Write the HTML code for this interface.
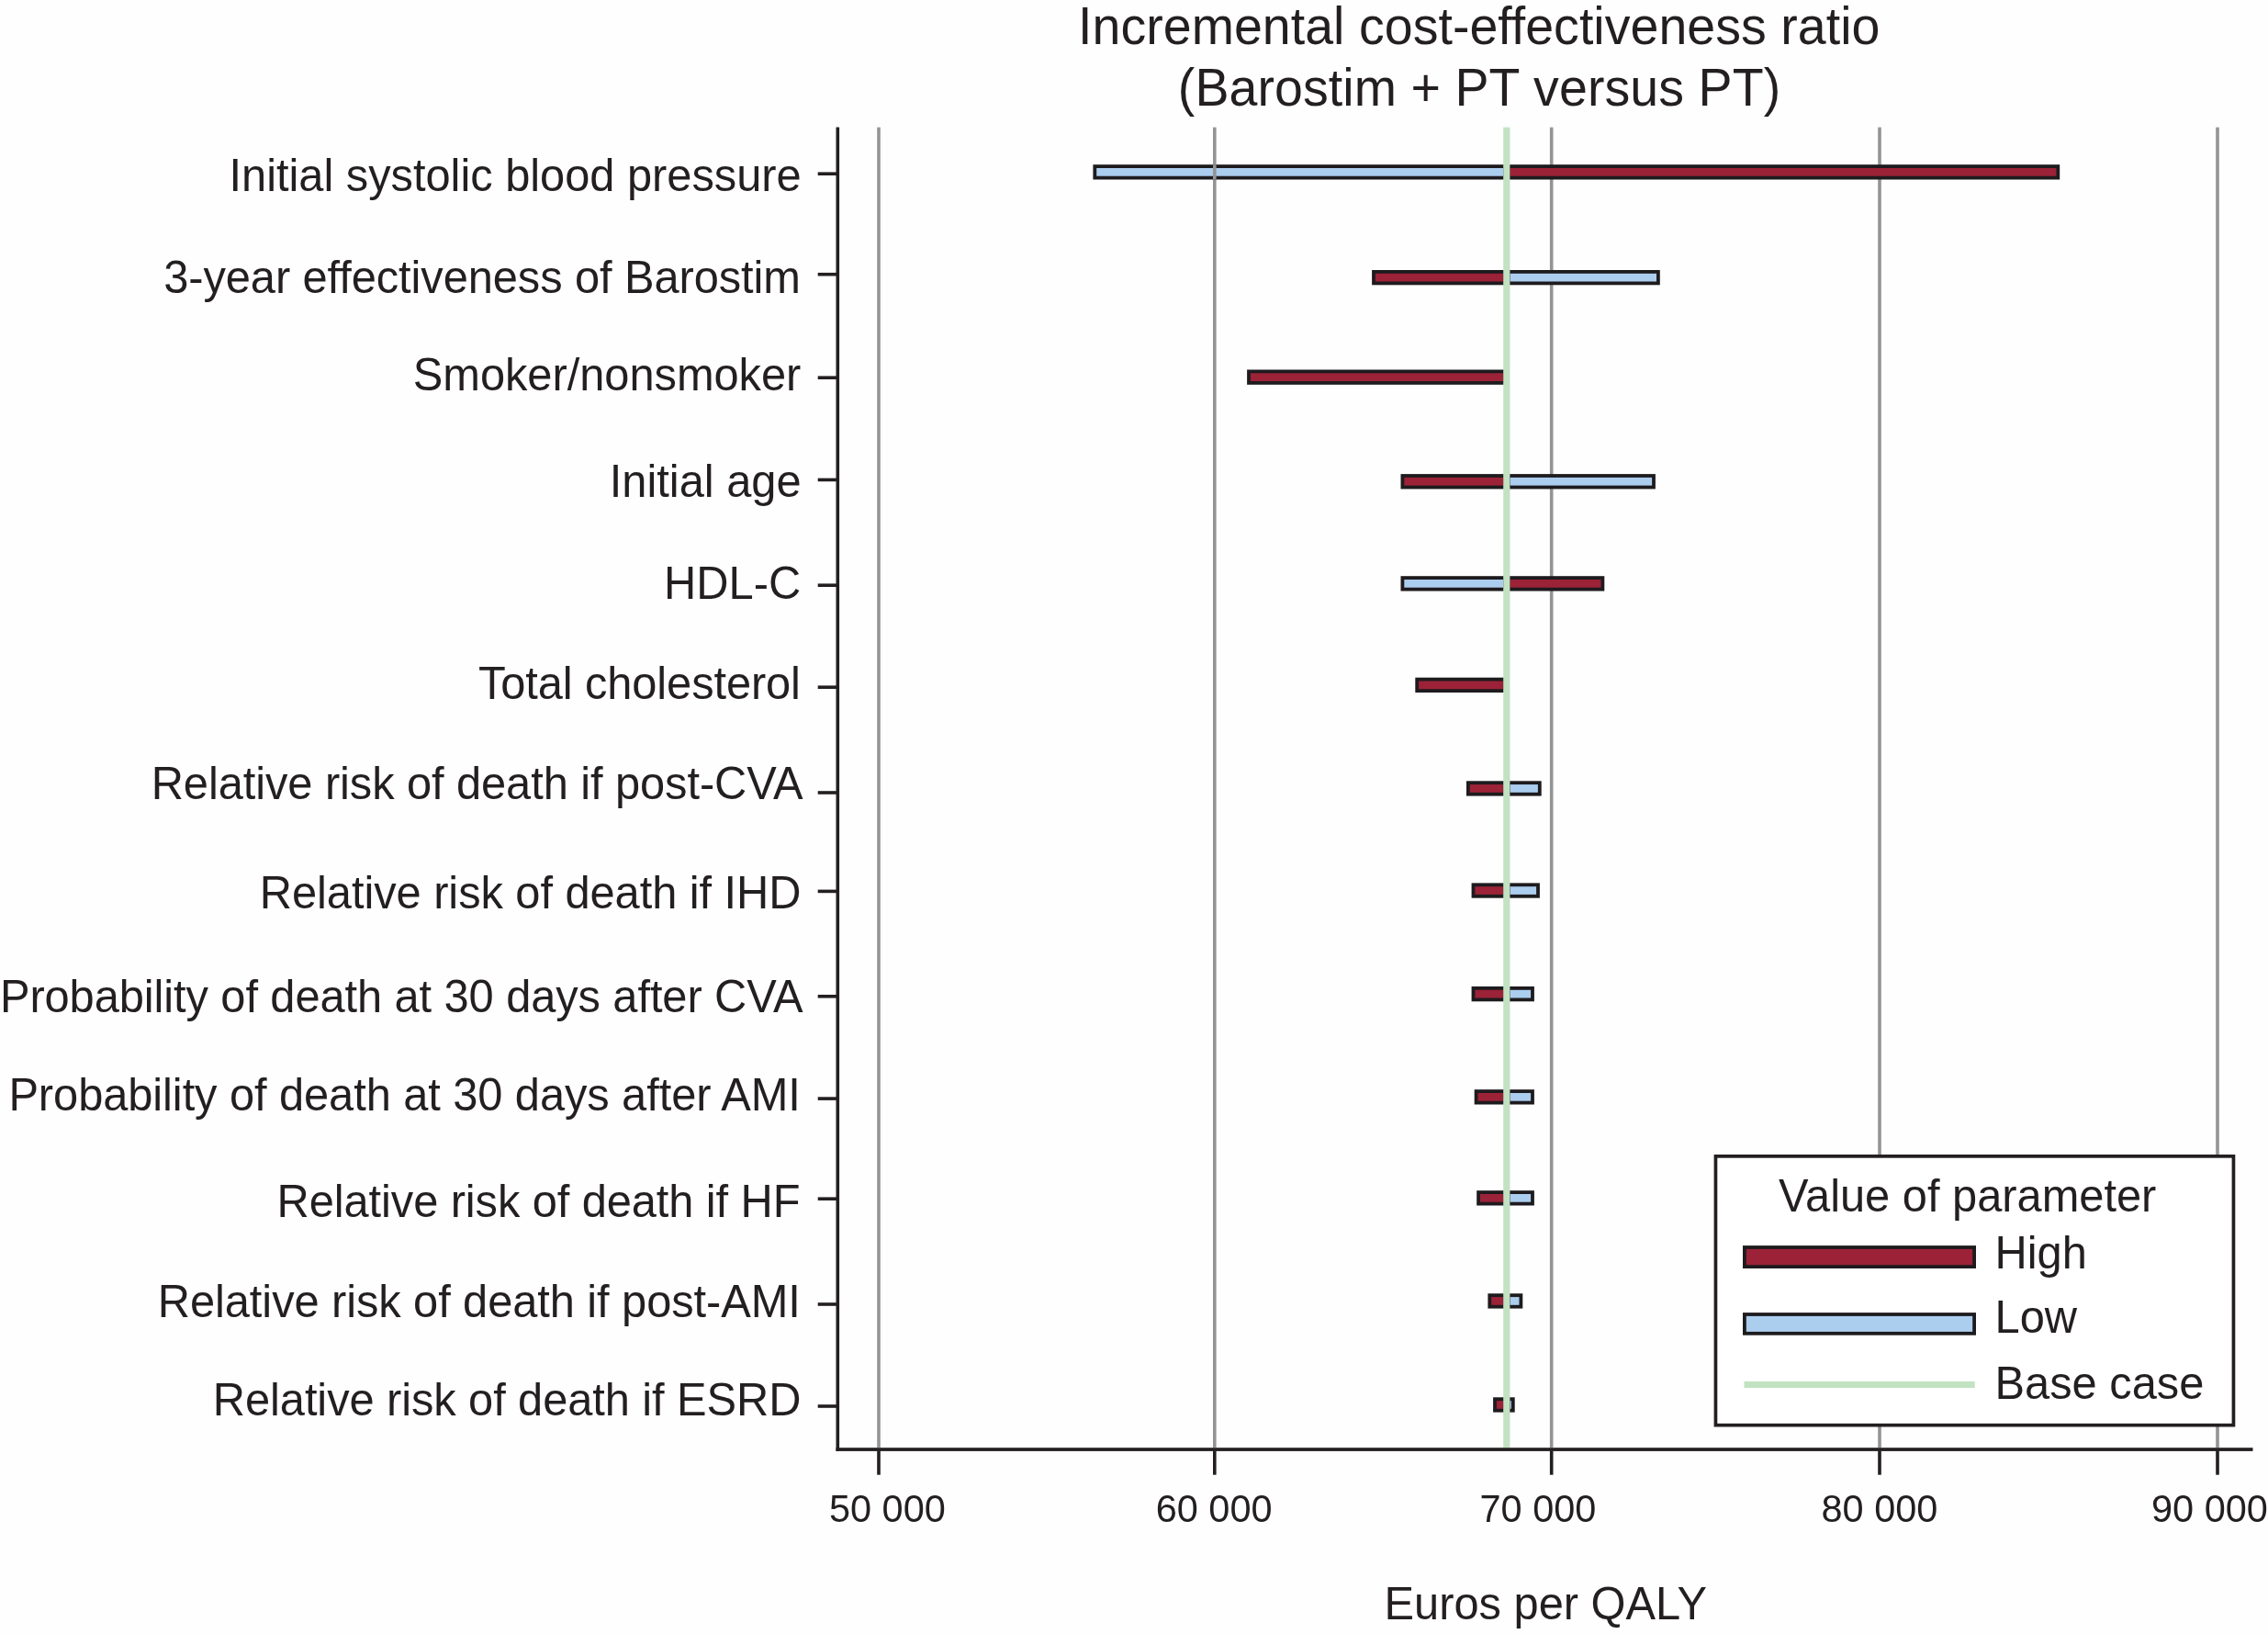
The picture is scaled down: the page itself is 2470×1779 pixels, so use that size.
<!DOCTYPE html>
<html><head><meta charset="utf-8"><title>Tornado diagram</title>
<style>
html,body{margin:0;padding:0;background:#fff;}
body{width:2470px;height:1779px;overflow:hidden;}
svg{display:block;}
text{font-family:"Liberation Sans", sans-serif;fill:#231f20;}
</style></head><body>
<svg width="2470" height="1779" viewBox="0 0 2470 1779">
<rect x="0" y="0" width="2470" height="1779" fill="#fefefe"/>
<rect x="955.20" y="138.60" width="3.60" height="1437.60" fill="#939494"/>
<rect x="1321.00" y="138.60" width="3.60" height="1437.60" fill="#939494"/>
<rect x="1687.90" y="138.60" width="3.60" height="1437.60" fill="#939494"/>
<rect x="2045.20" y="138.60" width="3.60" height="1437.60" fill="#939494"/>
<rect x="2413.20" y="138.60" width="3.60" height="1437.60" fill="#939494"/>
<rect x="1190.40" y="179.20" width="450.40" height="16.30" fill="#1e1b1e"/><rect x="1194.20" y="183.00" width="442.80" height="8.70" fill="#abcdee"/>
<rect x="1640.80" y="179.20" width="602.40" height="16.30" fill="#1e1b1e"/><rect x="1644.60" y="183.00" width="594.80" height="8.70" fill="#9c2238"/>
<rect x="1640.80" y="294.00" width="167.00" height="16.30" fill="#1e1b1e"/><rect x="1644.60" y="297.80" width="159.40" height="8.70" fill="#abcdee"/>
<rect x="1494.10" y="294.00" width="146.70" height="16.30" fill="#1e1b1e"/><rect x="1497.90" y="297.80" width="139.10" height="8.70" fill="#9c2238"/>
<rect x="1358.10" y="402.50" width="282.70" height="16.30" fill="#1e1b1e"/><rect x="1361.90" y="406.30" width="275.10" height="8.70" fill="#9c2238"/>
<rect x="1640.80" y="516.10" width="162.10" height="16.30" fill="#1e1b1e"/><rect x="1644.60" y="519.90" width="154.50" height="8.70" fill="#abcdee"/>
<rect x="1525.50" y="516.10" width="115.30" height="16.30" fill="#1e1b1e"/><rect x="1529.30" y="519.90" width="107.70" height="8.70" fill="#9c2238"/>
<rect x="1525.50" y="627.20" width="115.30" height="16.30" fill="#1e1b1e"/><rect x="1529.30" y="631.00" width="107.70" height="8.70" fill="#abcdee"/>
<rect x="1640.80" y="627.20" width="106.50" height="16.30" fill="#1e1b1e"/><rect x="1644.60" y="631.00" width="98.90" height="8.70" fill="#9c2238"/>
<rect x="1541.30" y="737.70" width="99.50" height="16.30" fill="#1e1b1e"/><rect x="1545.10" y="741.50" width="91.90" height="8.70" fill="#9c2238"/>
<rect x="1640.80" y="850.30" width="37.90" height="16.30" fill="#1e1b1e"/><rect x="1644.60" y="854.10" width="30.30" height="8.70" fill="#abcdee"/>
<rect x="1597.00" y="850.30" width="43.80" height="16.30" fill="#1e1b1e"/><rect x="1600.80" y="854.10" width="36.20" height="8.70" fill="#9c2238"/>
<rect x="1640.80" y="961.40" width="36.10" height="16.30" fill="#1e1b1e"/><rect x="1644.60" y="965.20" width="28.50" height="8.70" fill="#abcdee"/>
<rect x="1602.60" y="961.40" width="38.20" height="16.30" fill="#1e1b1e"/><rect x="1606.40" y="965.20" width="30.60" height="8.70" fill="#9c2238"/>
<rect x="1640.80" y="1074.00" width="30.10" height="16.30" fill="#1e1b1e"/><rect x="1644.60" y="1077.80" width="22.50" height="8.70" fill="#abcdee"/>
<rect x="1602.60" y="1074.00" width="38.20" height="16.30" fill="#1e1b1e"/><rect x="1606.40" y="1077.80" width="30.60" height="8.70" fill="#9c2238"/>
<rect x="1640.80" y="1186.20" width="30.10" height="16.30" fill="#1e1b1e"/><rect x="1644.60" y="1190.00" width="22.50" height="8.70" fill="#abcdee"/>
<rect x="1605.70" y="1186.20" width="35.10" height="16.30" fill="#1e1b1e"/><rect x="1609.50" y="1190.00" width="27.50" height="8.70" fill="#9c2238"/>
<rect x="1640.80" y="1296.20" width="30.10" height="16.30" fill="#1e1b1e"/><rect x="1644.60" y="1300.00" width="22.50" height="8.70" fill="#abcdee"/>
<rect x="1608.20" y="1296.20" width="32.60" height="16.30" fill="#1e1b1e"/><rect x="1612.00" y="1300.00" width="25.00" height="8.70" fill="#9c2238"/>
<rect x="1640.80" y="1408.30" width="17.50" height="16.30" fill="#1e1b1e"/><rect x="1644.60" y="1412.10" width="9.90" height="8.70" fill="#abcdee"/>
<rect x="1620.40" y="1408.30" width="20.40" height="16.30" fill="#1e1b1e"/><rect x="1624.20" y="1412.10" width="12.80" height="8.70" fill="#9c2238"/>
<rect x="1640.80" y="1521.30" width="8.90" height="16.30" fill="#1e1b1e"/><rect x="1644.60" y="1525.10" width="1.30" height="8.70" fill="#abcdee"/>
<rect x="1626.10" y="1521.30" width="14.70" height="16.30" fill="#1e1b1e"/><rect x="1629.90" y="1525.10" width="7.10" height="8.70" fill="#9c2238"/>
<rect x="1321.00" y="179.20" width="3.60" height="16.30" fill="#939494"/>
<rect x="1637.20" y="138.60" width="7.20" height="1437.60" fill="#c2e2c2"/>
<rect x="910.50" y="138.50" width="3.60" height="1441.40" fill="#231f20"/>
<rect x="910.50" y="1576.20" width="1543.00" height="3.70" fill="#231f20"/>
<rect x="890.70" y="187.40" width="20.80" height="3.60" fill="#231f20"/>
<rect x="890.70" y="296.90" width="20.80" height="3.60" fill="#231f20"/>
<rect x="890.70" y="409.40" width="20.80" height="3.60" fill="#231f20"/>
<rect x="890.70" y="520.60" width="20.80" height="3.60" fill="#231f20"/>
<rect x="890.70" y="635.40" width="20.80" height="3.60" fill="#231f20"/>
<rect x="890.70" y="746.40" width="20.80" height="3.60" fill="#231f20"/>
<rect x="890.70" y="861.20" width="20.80" height="3.60" fill="#231f20"/>
<rect x="890.70" y="968.60" width="20.80" height="3.60" fill="#231f20"/>
<rect x="890.70" y="1083.00" width="20.80" height="3.60" fill="#231f20"/>
<rect x="890.70" y="1194.30" width="20.80" height="3.60" fill="#231f20"/>
<rect x="890.70" y="1303.40" width="20.80" height="3.60" fill="#231f20"/>
<rect x="890.70" y="1418.20" width="20.80" height="3.60" fill="#231f20"/>
<rect x="890.70" y="1529.20" width="20.80" height="3.60" fill="#231f20"/>
<rect x="955.20" y="1579.40" width="3.60" height="26.30" fill="#231f20"/>
<rect x="1321.00" y="1579.40" width="3.60" height="26.30" fill="#231f20"/>
<rect x="1687.90" y="1579.40" width="3.60" height="26.30" fill="#231f20"/>
<rect x="2045.20" y="1579.40" width="3.60" height="26.30" fill="#231f20"/>
<rect x="2413.20" y="1579.40" width="3.60" height="26.30" fill="#231f20"/>
<rect x="1866.60" y="1257.00" width="567.70" height="296.50" fill="#231f20"/>
<rect x="1870.30" y="1260.70" width="560.30" height="289.10" fill="#ffffff"/>
<rect x="1898.00" y="1356.10" width="254.00" height="24.90" fill="#1e1b1e"/><rect x="1901.80" y="1359.90" width="246.40" height="17.30" fill="#9c2238"/>
<rect x="1898.00" y="1429.10" width="254.00" height="24.60" fill="#1e1b1e"/><rect x="1901.80" y="1432.90" width="246.40" height="17.00" fill="#abcdee"/>
<rect x="1899.50" y="1504.00" width="251.20" height="7.00" fill="#c2e2c2"/>
<g style="opacity:0.999">
<text transform="translate(1610.75,48.20) scale(1,1.04)" font-size="55.5" text-anchor="middle" textLength="873.35" lengthAdjust="spacing">Incremental cost-effectiveness ratio</text>
<text transform="translate(1611.00,114.90) scale(1,1.04)" font-size="55.5" text-anchor="middle" textLength="656.28" lengthAdjust="spacing">(Barostim + PT versus PT)</text>
<text transform="translate(872.67,207.90) scale(1,1.04)" font-size="48.8" text-anchor="end" textLength="623.17" lengthAdjust="spacing">Initial systolic blood pressure</text>
<text transform="translate(871.92,318.50) scale(1,1.04)" font-size="48.8" text-anchor="end" textLength="693.68" lengthAdjust="spacing">3-year effectiveness of Barostim</text>
<text transform="translate(872.31,425.00) scale(1,1.04)" font-size="48.8" text-anchor="end" textLength="422.53" lengthAdjust="spacing">Smoker/nonsmoker</text>
<text transform="translate(872.57,541.40) scale(1,1.04)" font-size="48.8" text-anchor="end" textLength="208.87" lengthAdjust="spacing">Initial age</text>
<text transform="translate(872.26,651.80) scale(1,1.04)" font-size="48.8" text-anchor="end" textLength="149.26" lengthAdjust="spacing">HDL-C</text>
<text transform="translate(871.96,761.10) scale(1,1.04)" font-size="48.8" text-anchor="end" textLength="351.06" lengthAdjust="spacing">Total cholesterol</text>
<text transform="translate(874.60,869.80) scale(1,1.04)" font-size="48.8" text-anchor="end" textLength="709.90" lengthAdjust="spacing">Relative risk of death if post-CVA</text>
<text transform="translate(872.44,988.80) scale(1,1.04)" font-size="48.8" text-anchor="end" textLength="589.64" lengthAdjust="spacing">Relative risk of death if IHD</text>
<text transform="translate(874.60,1101.80) scale(1,1.04)" font-size="48.8" text-anchor="end" textLength="874.70" lengthAdjust="spacing">Probability of death at 30 days after CVA</text>
<text transform="translate(871.80,1209.00) scale(1,1.04)" font-size="48.8" text-anchor="end" textLength="862.41" lengthAdjust="spacing">Probability of death at 30 days after AMI</text>
<text transform="translate(871.45,1325.40) scale(1,1.04)" font-size="48.8" text-anchor="end" textLength="569.86" lengthAdjust="spacing">Relative risk of death if HF</text>
<text transform="translate(871.80,1434.50) scale(1,1.04)" font-size="48.8" text-anchor="end" textLength="700.01" lengthAdjust="spacing">Relative risk of death if post-AMI</text>
<text transform="translate(872.44,1540.90) scale(1,1.04)" font-size="48.8" text-anchor="end" textLength="640.64" lengthAdjust="spacing">Relative risk of death if ESRD</text>
<text transform="translate(966.35,1657.00) scale(1,1.04)" font-size="41.5" text-anchor="middle">50 000</text>
<text transform="translate(1322.10,1657.00) scale(1,1.04)" font-size="41.5" text-anchor="middle">60 000</text>
<text transform="translate(1675.00,1657.00) scale(1,1.04)" font-size="41.5" text-anchor="middle">70 000</text>
<text transform="translate(2047.00,1657.00) scale(1,1.04)" font-size="41.5" text-anchor="middle">80 000</text>
<text transform="translate(2406.50,1657.00) scale(1,1.04)" font-size="41.5" text-anchor="middle">90 000</text>
<text transform="translate(1683.30,1763.10) scale(1,1.04)" font-size="48.8" text-anchor="middle">Euros per QALY</text>
<text transform="translate(1937.10,1319.00) scale(1,1.04)" font-size="48.8" text-anchor="start">Value of parameter</text>
<text transform="translate(2172.50,1380.60) scale(1,1.04)" font-size="48.8" text-anchor="start">High</text>
<text transform="translate(2172.50,1451.00) scale(1,1.04)" font-size="48.8" text-anchor="start">Low</text>
<text transform="translate(2172.50,1523.20) scale(1,1.04)" font-size="48.8" text-anchor="start">Base case</text>
</g>
</svg>
</body></html>
